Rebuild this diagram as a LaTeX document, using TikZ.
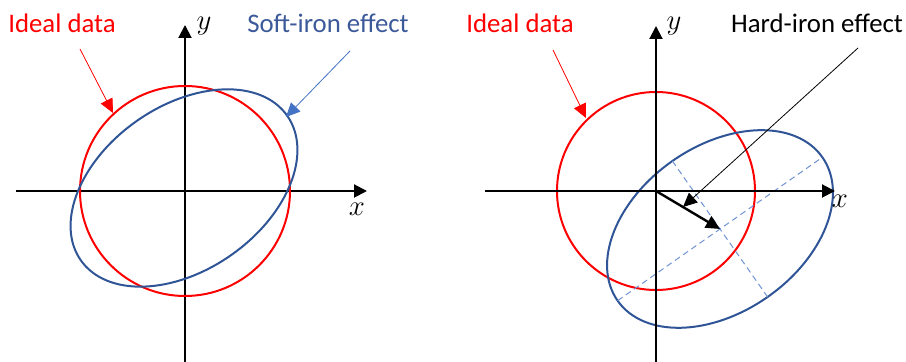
\documentclass[tikz,border=0pt]{standalone}
\usepackage{fontspec}
\setmainfont{Carlito}
\usepackage{xcolor}
\usetikzlibrary{arrows.meta}

\definecolor{ironblue}{HTML}{2F5597}
\definecolor{softblue}{HTML}{3C5A9A}
\definecolor{pointblue}{HTML}{4472C4}
\definecolor{dashblue}{HTML}{6F93D3}

\begin{document}
\begin{tikzpicture}[x=0.5pt, y=0.5pt,
    axis/.style={line width=1pt, -{Triangle[length=6.5pt, width=6.5pt]}},
    idealline/.style={line width=1pt, red},
    ironline/.style={line width=1pt, ironblue},
    pointer/.style={line width=0.4pt, -{Triangle[length=7pt, width=6.5pt]}},
    offsetarrow/.style={line width=1.2pt, -{Triangle[length=7pt, width=6.5pt]}},
    dashaxis/.style={line width=0.5pt, dashblue, dash pattern=on 3pt off 2pt},
    lbl/.style={font=\fontsize{13.4}{15}\selectfont},
    axlbl/.style={font=\fontsize{14}{16}\selectfont}]
    \useasboundingbox (0,0) rectangle (906,362);

    % Left: soft-iron effect
    \coordinate (lO) at (185,171);
    \coordinate (lxs) at (16,171);
    \coordinate (lxe) at (367,171);
    \coordinate (lys) at (185,0);
    \coordinate (lye) at (185,337);
    \draw[axis] (lxs) -- (lxe);
    \draw[axis] (lys) -- (lye);
    \node[axlbl] (lxlab) at (357,153) {$x$};
    \node[axlbl] (lylab) at (204,336) {$y$};

    \draw[idealline] (lO) circle (105);
    \begin{scope}[shift={(184,174)}, rotate=35]
        \draw[ironline] (0,0) ellipse [x radius=126, y radius=82];
    \end{scope}

    \node[lbl, text=red] (lideal) at (62,339) {Ideal data};
    \node[lbl, text=softblue] (lsoft) at (328,339) {Soft-iron effect};
    \coordinate (lrs) at (80,313);
    \coordinate (lrt) at (113,249);
    \coordinate (lbs) at (350,311);
    \coordinate (lbt) at (286,245);
    \draw[pointer, red] (lrs) -- (lrt);
    \draw[pointer, pointblue] (lbs) -- (lbt);

    % Right: hard-iron effect
    \coordinate (rO) at (656,171);
    \coordinate (rxs) at (485,171);
    \coordinate (rxe) at (835,171);
    \coordinate (rys) at (656,0);
    \coordinate (rye) at (656,336);
    \draw[idealline] (rO) circle (99);
    \begin{scope}[shift={(720,133)}, rotate=35]
        \coordinate (rc) at (0,0);
        \coordinate (ma) at (-125,0);
        \coordinate (mb) at (125,0);
        \coordinate (na) at (0,83);
        \coordinate (nb) at (0,-83);
        \draw[ironline] (rc) ellipse [x radius=125, y radius=83];
    \end{scope}
    \draw[dashaxis] (ma) -- (mb);
    \draw[dashaxis] (na) -- (nb);
    \draw[axis] (rxs) -- (rxe);
    \draw[axis] (rys) -- (rye);
    \node[axlbl] (rxlab) at (840,161) {$x$};
    \node[axlbl] (rylab) at (674,336) {$y$};

    \draw[offsetarrow] (rO) -- (rc);

    \node[lbl, text=red] (rideal) at (520,339) {Ideal data};
    \node[lbl] (rhard) at (817,339) {Hard-iron effect};
    \coordinate (rrs) at (553,312);
    \coordinate (rrt) at (586,244);
    \coordinate (rhs) at (858,314);
    \coordinate (rht) at (683,155);
    \draw[pointer, red] (rrs) -- (rrt);
    \draw[pointer] (rhs) -- (rht);

\end{tikzpicture}
\end{document}
